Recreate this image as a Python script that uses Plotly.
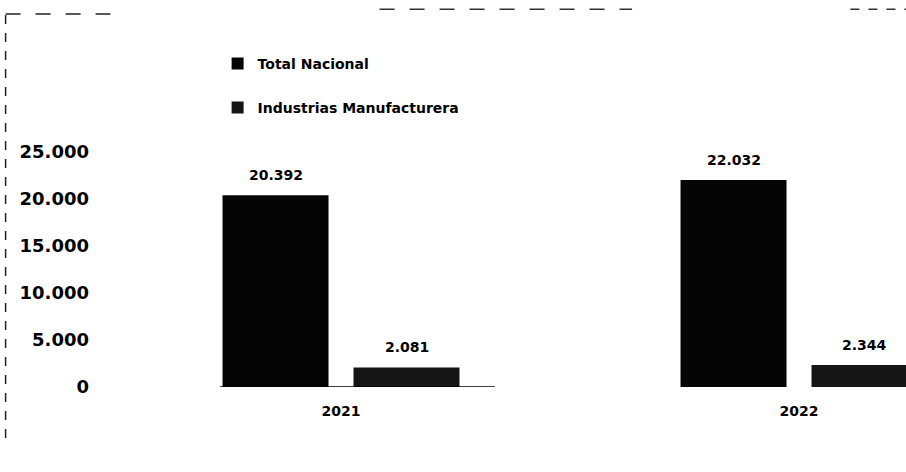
import plotly.graph_objects as go

# Employment totals by year: national total vs. manufacturing industries
years = ["2021", "2022"]
total_nacional = [20392, 22032]
industrias_manufactureras = [2081, 2344]
series_names = ["Total Nacional", "Industrias Manufacturera"]
y_ticks = [0, 5000, 10000, 15000, 20000, 25000]

BAR_W = 0.2314
GAP = 0.0546
OFF_A = -(GAP / 2 + BAR_W)
OFF_B = GAP / 2
FONT = "DejaVu Sans"

fig = go.Figure()
fig.add_trace(go.Bar(
    x=years, y=total_nacional, name=series_names[0],
    offset=OFF_A, width=BAR_W,
    marker=dict(color="#050505", line=dict(width=0)),
    legend="legend",
))
fig.add_trace(go.Bar(
    x=years, y=industrias_manufactureras, name=series_names[1],
    offset=OFF_B, width=BAR_W,
    marker=dict(color="#151515", line=dict(width=0)),
    legend="legend2",
))

# Value labels above each bar
def fmt(v):
    return f"{v:,}".replace(",", ".")

for i, (a, b) in enumerate(zip(total_nacional, industrias_manufactureras)):
    for val, off in ((a, OFF_A), (b, OFF_B)):
        fig.add_annotation(
            x=i + off + BAR_W / 2, y=val, xref="x", yref="y",
            text=fmt(val), showarrow=False, yanchor="bottom", yshift=10,
            font=dict(family=FONT, size=14, color="#000", weight="bold"),
        )

# Axis baseline under the first year group
fig.add_shape(type="line", xref="x", yref="y", x0=-0.264, x1=0.336, y0=0, y1=0,
              line=dict(color="#000", width=1.5))

# Document frame around the chart
frame = dict(color="#222", width=1.5, dash="dash")
fig.add_shape(type="line", xref="paper", yref="paper",
              x0=-0.134, x1=-0.134, y0=1.447, y1=-0.206, line=frame)
fig.add_shape(type="line", xref="paper", yref="paper",
              x0=-0.134, x1=-0.002, y0=1.451, y1=1.451,
              line=dict(color="#222", width=1.5, dash="longdash"))
fig.add_shape(type="line", xref="paper", yref="paper",
              x0=0.337, x1=0.655, y0=1.47, y1=1.47,
              line=dict(color="#333", width=1.5, dash="longdash"))
fig.add_shape(type="line", xref="paper", yref="paper",
              x0=0.93, x1=1.0, y0=1.47, y1=1.47,
              line=dict(color="#333", width=1.5, dash="dash"))

fig.update_layout(
    width=906, height=472,
    margin=dict(l=112, r=0, t=130, b=85),
    paper_bgcolor="white", plot_bgcolor="white",
    separators=",.",
    barmode="overlay",
    font=dict(family=FONT, color="#000"),
    xaxis=dict(
        type="category", range=[-0.5, 1.2336],
        showline=False, showgrid=False, zeroline=False, ticks="",
        tickfont=dict(family=FONT, size=14, color="#000", weight="bold"),
        ticklabelstandoff=14,
    ),
    yaxis=dict(
        range=[0, 27340], tickvals=y_ticks, tickformat=",d",
        showline=False, showgrid=False, zeroline=False, ticks="",
        tickfont=dict(family=FONT, size=18, color="#000", weight="bold"),
        ticklabelstandoff=22,
    ),
    legend=dict(
        x=0.133, y=1.257, xanchor="left", yanchor="middle",
        font=dict(family=FONT, size=14, color="#000", weight="bold"),
        bgcolor="rgba(0,0,0,0)",
    ),
    legend2=dict(
        x=0.133, y=1.086, xanchor="left", yanchor="middle",
        font=dict(family=FONT, size=14, color="#000", weight="bold"),
        bgcolor="rgba(0,0,0,0)",
    ),
    showlegend=True,
)

fig.write_html("out.html")
